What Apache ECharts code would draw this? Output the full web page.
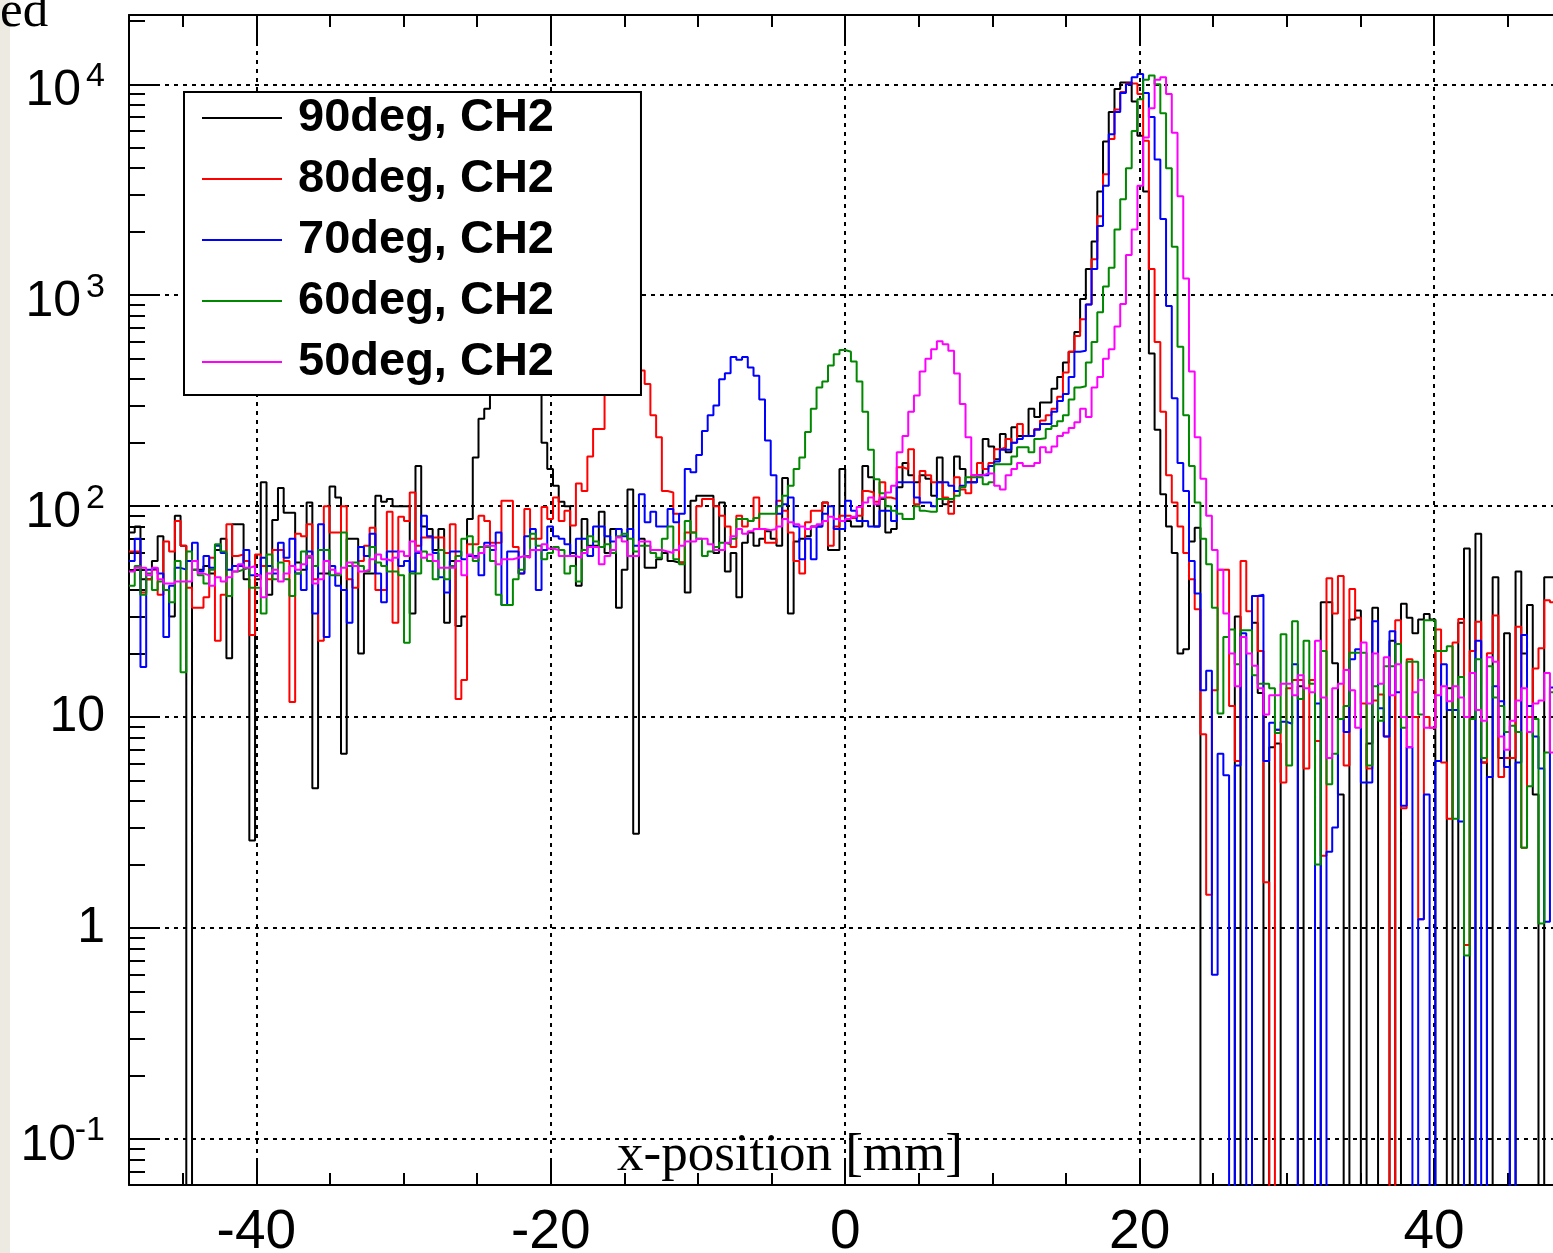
<!DOCTYPE html>
<html>
<head>
<meta charset="utf-8">
<title>x-position, CH2</title>
<script src="https://cdn.jsdelivr.net/npm/echarts@6/dist/echarts.min.js"></script>
<style>
  html, body { margin: 0; padding: 0; background: #fff; overflow: hidden; }
  #chart { width: 1553px; height: 1253px; }
</style>
</head>
<body>
<div id="chart"></div>
<script>
// histogram range and binning (x-position in mm)
const xMin = -48.65;
const xMax = 48.65;
const nBins = 250;

const yMin = 0.0605;
const yMax = 21310;

const seriesNames = ['90deg, CH2', '80deg, CH2', '70deg, CH2', '60deg, CH2', '50deg, CH2'];
const seriesColors = ['#000000', '#ff0000', '#0000ff', '#008800', '#ff00ff'];

// bin contents (0 = empty bin)
const counts90 = [
  75, 80, 45, 45, 55, 72, 40, 30, 90, 65,
  0, 50, 50, 52, 48, 62, 70, 19, 82, 82,
  45, 2.6, 45, 130, 38, 86, 122, 93, 93, 54,
  50, 104, 4.6, 48, 48, 124, 110, 6.7, 70, 70,
  20, 48, 48, 112, 105, 108, 100, 100, 100, 31,
  155, 80, 78, 62, 78, 28, 55, 27, 30, 87,
  170, 260, 290, 340, 420, 480, 520, 540, 530, 490,
  430, 370, 200, 150, 125, 105, 100, 60, 42, 87,
  65, 65, 94, 60, 78, 33, 50, 120, 2.8, 70,
  51, 51, 56, 60, 55, 54, 54, 39, 106, 112,
  112, 112, 60, 104, 49, 60, 37, 67, 75, 65,
  70, 76, 70, 65, 136, 31, 68, 70, 72, 80,
  80, 104, 62, 62, 150, 85, 80, 80, 155, 137,
  80, 108, 75, 78, 123, 160, 140, 130, 140, 135,
  112, 170, 102, 105, 172, 150, 130, 130, 140, 208,
  192, 167, 220, 180, 237, 215, 215, 290, 265, 310,
  310, 360, 410, 480, 540, 670, 960, 1330, 1800, 3100,
  5350, 7400, 9500, 10200, 10200, 8300, 5700, 3100, 530, 230,
  114, 80, 60, 20, 21, 68, 79, 0, 0, 0,
  0, 0, 0, 30, 0, 0, 28, 13, 0, 7.2,
  7.5, 0, 0, 0, 14, 0, 0, 0, 35, 35,
  18, 4.3, 0, 29, 32, 0, 7.5, 33, 0, 0,
  23, 0, 34.5, 29.6, 25, 29, 30.8, 29, 0, 0,
  13.7, 0, 28, 63, 0, 74, 6.1, 0, 46, 6.4,
  25, 0, 49, 20, 34, 4.3, 0, 46, 46, 30
];

const counts80 = [
  61, 61, 39, 45, 50, 38, 68, 61, 85, 65,
  41, 33, 33, 37, 57, 23, 38, 82, 58, 59,
  55, 24.5, 59, 52, 45, 62, 62, 55, 11.8, 74,
  72, 82, 45, 23, 100, 75, 75, 100, 45, 41,
  55, 65, 79, 40, 40, 94, 28, 89, 85, 116,
  65, 71, 71, 71, 71, 60, 82, 12.2, 15, 66,
  66, 90, 85, 67, 67, 106, 106, 64, 48, 97,
  70, 70, 99, 87, 110, 85, 95, 81, 128, 118,
  172, 232, 232, 380, 470, 540, 570, 560, 510, 440,
  380, 270, 212, 118, 116, 92, 54, 75, 75, 100,
  108, 108, 100, 90, 80, 64, 90, 80, 85, 110,
  78, 67, 67, 106, 95, 75, 55, 48, 84, 95,
  95, 104, 65, 80, 90, 90, 88, 90, 118, 116,
  105, 130, 110, 108, 153, 150, 186, 102, 147, 140,
  130, 130, 110, 92, 137, 120, 115, 140, 160, 150,
  160, 186, 190, 208, 200, 245, 215, 215, 232, 255,
  270, 290, 330, 430, 540, 640, 770, 905, 1480, 2370,
  3750, 5500, 7600, 9200, 10100, 10100, 9000, 5400, 1330, 600,
  280, 140, 104, 80, 60, 45, 32.5, 8.3, 1.44, 13.4,
  50, 50, 11.3, 6.2, 55, 31.8, 37.5, 20.6, 1.65, 0,
  8.7, 4.9, 13.7, 15, 15, 5.7, 15, 7.7, 2.2, 45.5,
  31, 46.6, 5.9, 40.5, 29.6, 11.6, 5.7, 12, 12.8, 8.1,
  0, 28.8, 3.7, 18.8, 10, 1.1, 10, 8.9, 26, 6.1,
  3.3, 22.6, 29.2, 0.83, 20.6, 28.3, 6.1, 20.1, 30.3, 5.2,
  6.4, 6.4, 26.8, 2.4, 10, 17, 21.2, 35.8, 35, 35
];

const counts70 = [
  55, 70, 17.3, 50, 51, 48, 24, 42, 51, 50,
  55, 67, 49, 58, 51, 65, 60, 50, 52, 52,
  62, 47, 47, 57, 52, 48, 67, 57, 70, 48,
  40, 61, 31, 82, 24, 52, 42, 40, 28, 52,
  64, 58, 74, 48, 35, 61, 61, 52, 55, 49,
  60, 90, 72, 60, 46, 39, 61, 61, 56, 58,
  58, 47, 67, 62, 75, 34, 61, 61, 48, 72,
  78, 40, 62, 80, 72, 70, 66, 58, 70, 70,
  58, 80, 80, 72, 68, 78, 72, 78, 65, 114,
  84, 94, 80, 80, 97, 84, 92, 150, 145, 175,
  227, 270, 300, 400, 427, 510, 495, 510, 455, 415,
  320, 205, 140, 92, 102, 110, 80, 56, 70, 56,
  80, 92, 100, 78, 78, 106, 95, 85, 85, 80,
  80, 95, 95, 85, 130, 130, 130, 110, 104, 104,
  100, 130, 130, 125, 118, 125, 130, 130, 140, 140,
  155, 163, 185, 185, 200, 208, 215, 215, 230, 245,
  245, 280, 315, 340, 410, 540, 545, 905, 1330, 2130,
  3300, 5800, 7400, 9100, 10000, 10800, 11200, 9100, 7000, 4400,
  2300, 890, 325, 160, 118, 55, 38.5, 13.4, 16.6, 0.6,
  6.7, 5.3, 0, 5.9, 25, 0, 37.5, 38, 6.2, 9.4,
  8.7, 9.5, 9.3, 17.8, 0, 0, 0, 11.6, 0, 2.3,
  3.0, 9.8, 8.5, 18.8, 21, 4.9, 4.9, 28.5, 11, 8.1,
  25.5, 13.1, 3.8, 7.2, 0, 1.1, 4.3, 0, 6.2, 17.8,
  10.8, 10.8, 3.2, 0, 0, 23, 0, 5.2, 14, 11.9,
  5.8, 0, 6.1, 24.5, 11.3, 8.1, 5.7, 1.07, 13.8, 13.8
];

const counts60 = [
  42, 52, 38, 48, 40, 44, 40, 35, 55, 16.3,
  61, 50, 47, 43, 50, 66, 61, 37.5, 49, 50,
  51, 41, 41, 31, 59, 45, 54, 45, 37.5, 48,
  61, 57, 52, 62, 62, 47, 47, 75, 52, 54,
  52, 49, 64, 54, 52, 49, 49, 47, 22.5, 48,
  48, 61, 55, 45, 62, 45, 52, 58, 70, 72,
  55, 64, 64, 55, 38, 34, 34, 45, 50, 58,
  74, 65, 56, 60, 64, 62, 48, 52, 44, 62,
  72, 68, 64, 66, 60, 72, 74, 70, 61, 65,
  65, 60, 57, 70, 80, 56, 53, 85, 75, 70,
  58, 61, 64, 67, 66, 70, 87, 87, 85, 88,
  92, 92, 92, 100, 112, 125, 150, 170, 225, 290,
  365, 390, 465, 525, 550, 540, 485, 390, 280, 185,
  134, 115, 100, 95, 92, 87, 87, 100, 95, 94,
  94, 108, 108, 108, 112, 123, 137, 137, 137, 127,
  130, 158, 158, 158, 172, 190, 190, 180, 208, 210,
  232, 240, 253, 270, 320, 365, 370, 480, 600, 830,
  1100, 1350, 2050, 2850, 4000, 6000, 8500, 10500, 11000, 10000,
  7300, 4000, 1700, 570, 270, 155, 104, 70, 53, 33,
  10.4, 24, 26, 17.8, 25.8, 25.8, 15.8, 14.4, 14.4, 13.7,
  8.4, 24.7, 5.9, 28.5, 12.2, 23, 14.4, 2.0, 20.6, 4.8,
  6.7, 9.8, 11.3, 20.2, 20.2, 20.2, 5.9, 14, 9.6, 17.4,
  17.4, 22.2, 8.9, 18.3, 18.3, 10.3, 28.8, 28.8, 20.6, 20.6,
  21.7, 3.3, 15.5, 0.74, 9.8, 18.8, 6.4, 17.4, 12.4, 11.3,
  8.5, 9.1, 8.5, 2.4, 4.7, 9.8, 1.05, 6.8, 13.1, 13.1
];

const counts50 = [
  49, 51, 51, 47, 51, 45, 43, 43, 44, 44,
  44, 55, 48, 47, 42, 46, 44, 46, 49, 53,
  51, 52, 47, 37, 48, 50, 44, 48, 52, 50,
  53, 58, 43, 45, 55, 50, 48, 51, 54, 52,
  49, 50, 56, 59, 56, 55, 57, 61, 58, 68,
  61, 57, 59, 55, 51, 51, 51, 55, 47, 59,
  57, 60, 65, 65, 53, 56, 56, 57, 58, 57,
  62, 62, 66, 63, 62, 58, 58, 58, 57, 60,
  64, 64, 53, 58, 62, 71, 68, 58, 58, 68,
  68, 62, 62, 61, 60, 62, 65, 68, 68, 70,
  70, 66, 62, 62, 67, 72, 78, 74, 76, 78,
  78, 77, 78, 80, 87, 84, 82, 80, 78, 80,
  82, 85, 89, 87, 85, 87, 89, 99, 104, 110,
  102, 110, 116, 125, 180, 215, 280, 335, 435, 500,
  555, 605, 585, 545, 425, 305, 212, 140, 140, 143,
  143, 125, 120, 140, 150, 160, 155, 155, 160, 190,
  180, 192, 215, 223, 235, 250, 290, 265, 365, 410,
  500, 555, 710, 910, 1550, 2050, 3300, 5600, 7700, 10500,
  10800, 9000, 5900, 2950, 1200, 435, 212, 135, 90, 62,
  50, 31, 20, 14, 24, 20, 17.5, 13.7, 10.3, 12.7,
  12.7, 14.4, 14.4, 12.7, 15.8, 13.7, 13.1, 23, 12.4, 6.4,
  13.7, 14.4, 16.7, 13.4, 8.9, 22.6, 11.6, 20, 14.4, 19.2,
  12.7, 17.8, 10, 7.2, 13.1, 15, 8.9, 8.9, 12.7, 14,
  11.9, 14, 12.4, 10, 16.2, 10.8, 9.6, 19.2, 18.3, 8.1,
  7.0, 9.6, 12, 13.7, 8.5, 11.6, 12, 16.2, 6.8, 12.7
];

const allCounts = [counts90, counts80, counts70, counts60, counts50];

// minor tick multipliers for the log axis (2..9 x 10^n)
const minorSteps = [2, 3, 4, 5, 6, 7, 8, 9];

const chart = echarts.init(document.getElementById('chart'));

// histogram -> step points at the left bin edges; empty bins drop below the frame
const binWidth = (xMax - xMin) / nBins;
function toSteps(counts) {
  const pts = counts.map((c, i) => [xMin + i * binWidth, c > 0 ? c : 1e-3]);
  pts.push([xMax, pts[pts.length - 1][1]]);
  return pts;
}

const gridDash = { color: '#000', width: 2, type: [4, 5] };
const font = 'Liberation Sans';

function xAxisDef(position, tickLen, splitNumber, main) {
  return {
    type: 'value',
    position: position,
    min: xMin,
    max: xMax,
    splitNumber: splitNumber,
    axisLine: { show: main, onZero: false, lineStyle: { color: '#000', width: 2 } },
    axisTick: { show: true, inside: true, length: tickLen, lineStyle: { color: '#000', width: 2 } },
    axisLabel: {
      show: main && position === 'bottom',
      margin: 20,
      color: '#000',
      fontFamily: font,
      fontSize: 55,
      formatter: function (v) {
        return Math.abs(v % 20) < 1e-9 ? String(v) : '';
      }
    },
    splitLine: { show: main && position === 'bottom', lineStyle: gridDash }
  };
}

// decade labels: 10^n written as exponent line above a "10" line (superscript look)
const yMain = {
  type: 'log',
  logBase: 10,
  position: 'left',
  min: yMin,
  max: yMax,
  axisLine: { show: true, onZero: false, lineStyle: { color: '#000', width: 2 } },
  axisTick: { show: true, inside: true, length: 31, lineStyle: { color: '#000', width: 2 } },
  splitLine: { show: true, lineStyle: gridDash },
  axisLabel: {
    margin: 24,
    color: '#000',
    fontFamily: font,
    fontSize: 50,
    formatter: function (v) {
      const e = Math.log10(v);
      const n = Math.round(e);
      if (Math.abs(e - n) > 1e-6) return '';
      if (n === 0) return '{b|1}';
      if (n === 1) return '{b|10}';
      return '{s|' + n + '}\n{' + (n < 0 ? 'bw' : 'bn') + '|10}';
    },
    rich: {
      b: { fontSize: 50, fontFamily: font, color: '#000', lineHeight: 50 },
      s: { fontSize: 34, fontFamily: font, color: '#000', lineHeight: 14 },
      bn: { fontSize: 50, fontFamily: font, color: '#000', lineHeight: 16, padding: [0, 24, 0, 0] },
      bw: { fontSize: 50, fontFamily: font, color: '#000', lineHeight: 16, padding: [0, 29, 0, 0] }
    }
  }
};

// extra log axes shifted by m, so their decade ticks land on m x 10^n
const yMinor = minorSteps.map(function (m) {
  return {
    type: 'log',
    logBase: 10,
    position: 'left',
    offset: 0,
    min: yMin / m,
    max: yMax / m,
    axisLine: { show: false, onZero: false },
    axisTick: { show: true, inside: true, length: 16, lineStyle: { color: '#000', width: 2 } },
    axisLabel: { show: false },
    splitLine: { show: false }
  };
});

const option = {
  animation: false,
  backgroundColor: '#fff',
  grid: { left: 129, top: 15, width: 1432.4, height: 1170, containLabel: false, outerBoundsMode: 'none' },
  legend: {
    orient: 'vertical',
    left: 184,
    top: 92,
    padding: [2, 87, 9, 18],
    backgroundColor: '#fff',
    borderColor: '#000',
    borderWidth: 2,
    icon: 'rect',
    itemWidth: 80,
    itemHeight: 2,
    itemGap: 13,
    textStyle: {
      fontFamily: font,
      fontSize: 47,
      fontWeight: 'bold',
      color: '#000',
      lineHeight: 48,
      padding: [0, 0, 0, 11]
    },
    data: seriesNames
  },
  xAxis: [
    xAxisDef('bottom', 27, 5, true),
    xAxisDef('bottom', 12, 20, false),
    xAxisDef('top', 27, 5, true),
    xAxisDef('top', 12, 20, false)
  ],
  yAxis: [yMain].concat(yMinor),
  graphic: [
    { type: 'rect', left: 0, top: 0, shape: { width: 10, height: 1253 }, style: { fill: '#edeae2' }, z: -1 },
    { type: 'text', left: 0, top: -13, style: { text: 'ed', font: '51px "Liberation Serif"', fill: '#000' } },
    { type: 'text', left: 617, top: 1130, style: { text: 'x-position [mm]', font: '53px "Liberation Serif"', fill: '#000' } }
  ],
  series: seriesNames.map(function (name, i) {
    return {
      name: name,
      type: 'line',
      step: 'end',
      symbol: 'none',
      xAxisIndex: 0,
      yAxisIndex: 0,
      clip: true,
      data: toSteps(allCounts[i]),
      lineStyle: { color: seriesColors[i], width: 2 },
      itemStyle: { color: seriesColors[i] }
    };
  })
};

chart.setOption(option);
</script>
</body>
</html>
